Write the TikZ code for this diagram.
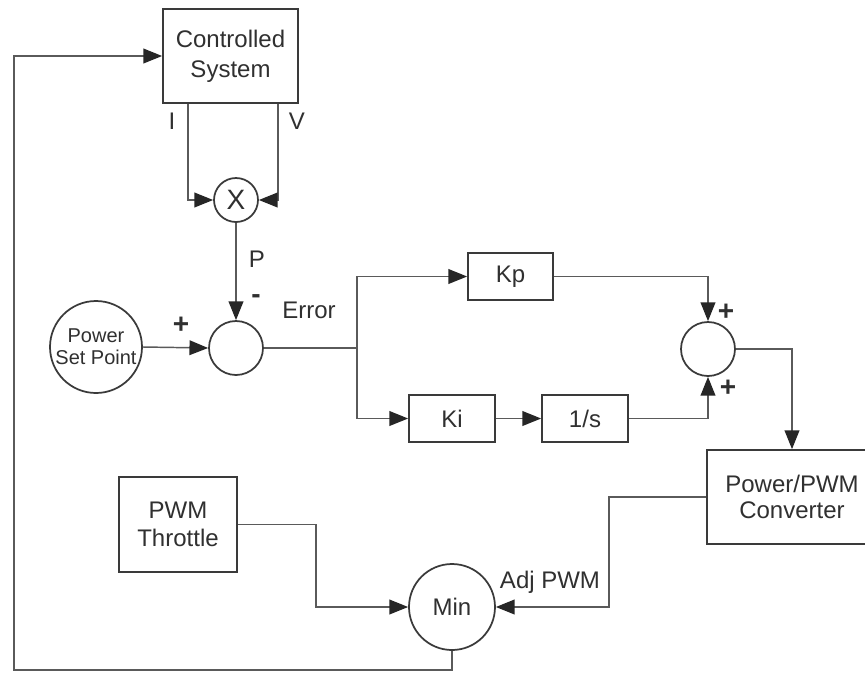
\documentclass[tikz,border=0pt]{standalone}
\usepackage{fontspec}
\setmainfont{Liberation Sans}
\usetikzlibrary{arrows.meta,calc}
\definecolor{ln}{HTML}{5A5A5A}
\definecolor{bx}{HTML}{3A3A3A}
\definecolor{tx}{HTML}{303030}
\begin{document}
\begin{tikzpicture}[x=0.75pt,y=-0.75pt,
  blk/.style={draw=bx,line width=1.3pt,inner sep=0pt,align=center,text=tx,font=\fontsize{18}{21}\selectfont},
  circ/.style={draw=bx,line width=1.3pt,circle,inner sep=0pt,align=center,text=tx,font=\fontsize{18}{21}\selectfont},
  conn/.style={draw=ln,line width=1.1pt},
  arr/.style={conn,-{Triangle[length=14pt,width=11pt,color=black!85]}},
  lbl/.style={text=tx,font=\fontsize{18}{21}\selectfont,inner sep=0pt},
  sgn/.style={text=tx,font=\fontsize{21}{22}\selectfont\bfseries,inner sep=0pt}]
\useasboundingbox (0,0) rectangle (865,672);
\clip (0,0) rectangle (865,672);
\fill[white] (0,0) rectangle (865,672);

% nodes
\node[blk,minimum width=101.25pt,minimum height=70.5pt,font=\fontsize{18}{22.5}\selectfont] (cs) at (230.5,56) {Controlled\\System};
\node[circ,minimum size=33pt,font=\fontsize{21}{22}\selectfont] (xm) at (236,200) {X};
\node[circ,minimum size=40.5pt] (s1) at (236,348) {};
\node[circ,minimum size=69pt,font=\fontsize{15}{16.5}\selectfont] (psp) at (96,347) {Power\\Set Point};
\node[blk,minimum width=63.75pt,minimum height=35.25pt] (kp) at (510.5,276.5) {Kp};
\node[blk,minimum width=64.5pt,minimum height=35.25pt] (ki) at (452,418.5) {Ki};
\node[blk,minimum width=64.5pt,minimum height=35.25pt] (int) at (585,418.5) {1/s};
\node[circ,minimum size=40.5pt] (s2) at (708,349) {};
\node[blk,minimum width=128pt,minimum height=70.5pt] (ppc) at (792,497) {};
\node[lbl,align=center,font=\fontsize{18}{19}\selectfont] (ppct) at (792,497) {Power/PWM\\Converter};
\node[blk,minimum width=88.5pt,minimum height=71.25pt,font=\fontsize{18}{21}\selectfont] (thr) at (178,524.5) {PWM\\Throttle};
\node[circ,minimum size=64.5pt] (mn) at (452,607) {Min};

% labels
\node[lbl] (li) at (172,121) {I};
\node[lbl] (lv) at (297,121) {V};
\node[lbl] (lp) at (257,259) {P};
\node[sgn] (lm) at (256,299) {-};
\node[sgn] (lpl) at (181,325) {+};
\node[lbl] (le) at (309,310) {Error};
\node[sgn] (lp1) at (726,312) {+};
\node[sgn] (lp2) at (728,388) {+};
\node[lbl] (la) at (550,582) {Adj PWM};

% coordinates
\coordinate (fb) at (14,670);
\coordinate (br) at (357,348);

% connectors
\draw[arr] ($(cs.south west)+(26,0)$) |- (xm.west);
\draw[arr] ($(cs.south west)+(116,0)$) |- (xm.east);
\draw[arr] (xm.south) -- (s1.north);
\draw[arr] (psp.east) -- (s1.west);
\draw[conn] (s1.east) -- (br);
\draw[arr] (br) |- (kp.west);
\draw[arr] (br) |- (ki.west);
\draw[arr] (ki.east) -- (int.west);
\draw[arr] (kp.east) -| (s2.north);
\draw[arr] (int.east) -| (s2.south);
\draw[arr] (s2.east) -| (ppc.north);
\draw[arr] (ppc.west) -- ++(-97,0) |- (mn.east);
\draw[arr] (thr.east) -- ++(78,0) |- (mn.west);
\draw[arr] (mn.south) |- (fb) |- (cs.west);
\end{tikzpicture}
\end{document}
